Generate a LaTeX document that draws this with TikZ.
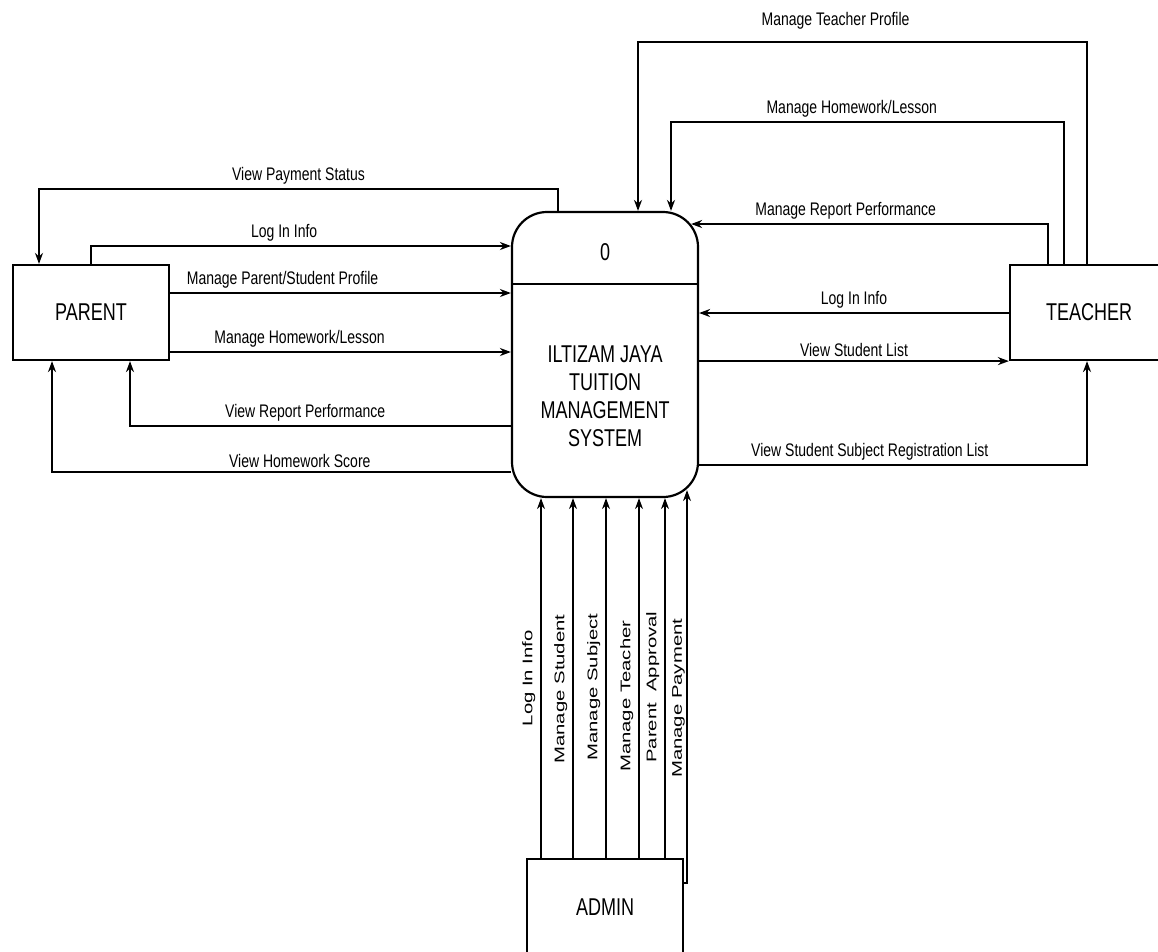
\documentclass[tikz,border=0pt]{standalone}
\usepackage{fontspec}
\setmainfont{Liberation Sans}
\usepackage{graphicx}
\usetikzlibrary{positioning, arrows.meta}
\newcommand{\tall}[1]{\scalebox{1}[1.35]{#1}}
\newcommand{\lblfont}{\fontsize{14}{16}\selectfont}
\newcommand{\boxfont}{\fontsize{18}{28}\selectfont}
\tikzset{
  entity/.style={draw, line width=2.2pt, minimum width=156pt, minimum height=95pt, inner sep=0pt, font=\boxfont},
  process/.style={draw, line width=2.2pt, rounded corners=35pt, minimum width=186pt, minimum height=285pt},
  flow/.style={->, line width=2.2pt},
  thinflow/.style={->, line width=1.5pt},
  lbl/.style={font=\lblfont, yscale=1.3, inner sep=2.5pt},
  vlbl/.style={font=\lblfont, yscale=1.45, rotate=90, anchor=south, inner sep=5pt},
  >={Stealth[length=11pt, width=8pt]},
}

\begin{document}
\begin{tikzpicture}[x=1pt, y=-1pt]
    \useasboundingbox (0,0) rectangle (1158,951);
    \node[entity] (parent) at (91,312.5) {\tall{PARENT}};
    \node[entity, minimum width=158pt] (teacher) at (1089,312.5) {\tall{TEACHER}};
    \node[entity, line width=1.5pt, minimum height=96pt] (admin) at (605,907) {\tall{ADMIN}};
    \node[process] (proc) at (605,354.5) {};
    \node[font=\boxfont] (procid) at (605,252) {\tall{0}};
    \node[font=\boxfont, align=center] (procname) at (605,396.5)
      {\tall{ILTIZAM JAYA}\\\tall{TUITION}\\\tall{MANAGEMENT}\\\tall{SYSTEM}};
    \draw[line width=2.2pt] (proc.west |- 0,284) -- (proc.east |- 0,284);

    \draw[flow] (proc.north -| 558,0) -- (558,189) -| node[lbl, pos=.25, above] {View Payment Status} (parent.north -| 39,0);
    \draw[flow] (parent.north) |- node[lbl, pos=.73, above] {Log In Info} (proc.west |- 0,246);
    \draw[flow] (parent.east |- 0,293) -- node[lbl, pos=.33, above] {Manage Parent/Student Profile} (proc.west |- 0,293);
    \draw[flow] (parent.east |- 0,352) -- node[lbl, pos=.38, above] {Manage Homework/Lesson} (proc.west |- 0,352);
    \draw[flow] (proc.west |- 0,426) -| node[lbl, pos=.27, above] {View Report Performance} (parent.south -| 130,0);
    \draw[flow] (proc.west |- 0,472) -| node[lbl, pos=.23, above] {View Homework Score} (parent.south -| 52,0);

    \draw[flow] (teacher.north -| 1087,0) -- (1087,42) -| node[lbl, pos=.28, above=8pt] {Manage Teacher Profile} (proc.north -| 638,0);
    \draw[flow] (teacher.north -| 1064,0) -- (1064,122) -| node[lbl, pos=.27, above] {Manage Homework/Lesson} (proc.north -| 671,0);
    \draw[flow, shorten >=-8pt] (teacher.north -| 1048,0) |- node[lbl, pos=.79, above] {Manage Report Performance} (proc.east |- 0,224);
    \draw[flow] (teacher.west |- 0,313) -- node[lbl, above] {Log In Info} (proc.east |- 0,313);
    \draw[flow] (proc.east |- teacher.south west) -- node[lbl, above] {View Student List} (teacher.south west);
    \draw[flow] (proc.east |- 0,465) -| node[lbl, pos=.22, above] {View Student Subject Registration List} (teacher.south -| 1087,0);

    \draw[thinflow] (admin.north -| 541,0) -- node[vlbl, pos=.5] {Log In Info} (proc.south -| 541,0);
    \draw[thinflow] (admin.north -| 573,0) -- node[vlbl, pos=.47] {Manage Student} (proc.south -| 573,0);
    \draw[thinflow] (admin.north -| 606,0) -- node[vlbl, pos=.475] {Manage Subject} (proc.south -| 606,0);
    \draw[thinflow] (admin.north -| 639,0) -- node[vlbl, pos=.45] {Manage Teacher} (proc.south -| 639,0);
    \draw[thinflow] (admin.north -| 665,0) -- node[vlbl, pos=.475] {Parent\ \ Approval} (proc.south -| 665,0);
    \draw[thinflow, shorten >=-8pt] (admin.east |- 0,883) -| node[vlbl, pos=.74, inner sep=1.5pt] {Manage Payment} (proc.south -| 687,0);
\end{tikzpicture}
\end{document}
